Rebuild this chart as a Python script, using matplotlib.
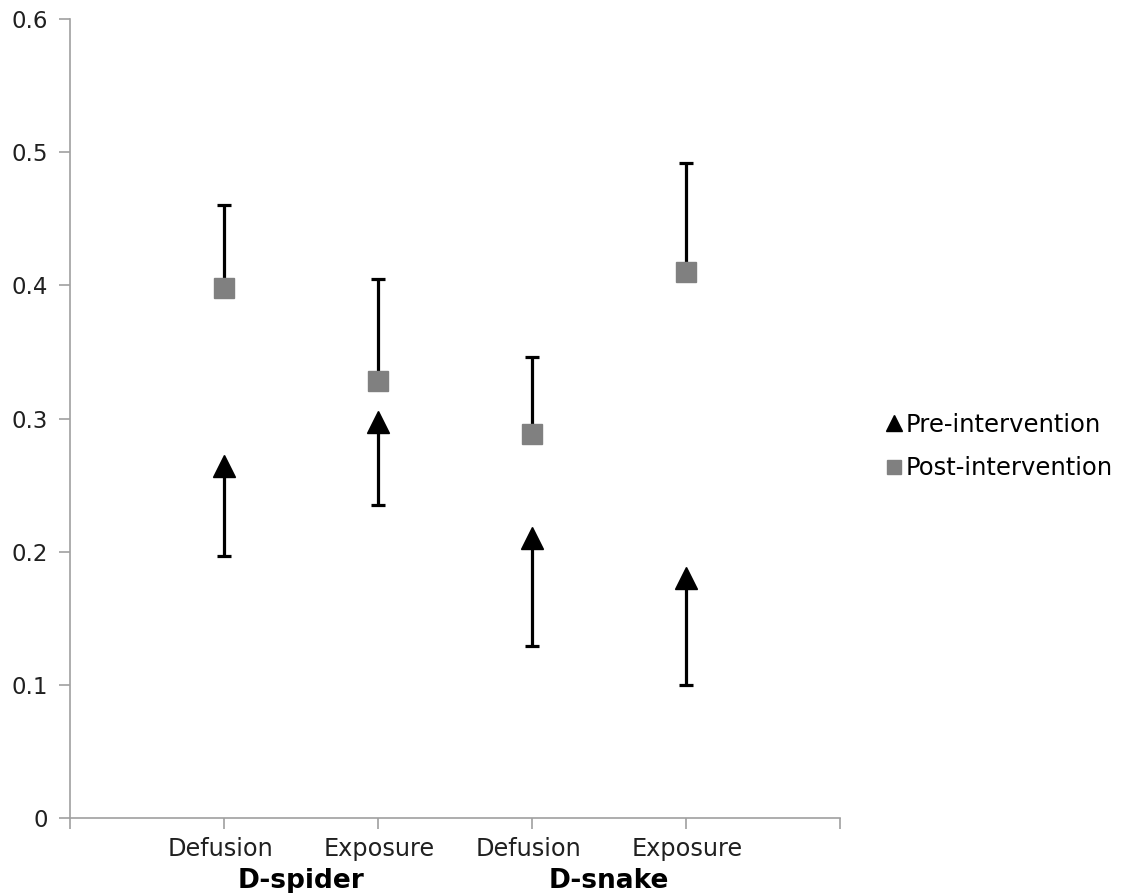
import matplotlib
matplotlib.use('Agg')
import matplotlib.pyplot as plt
import numpy as np

categories = ['Defusion', 'Exposure', 'Defusion', 'Exposure']
groups = ['D-spider', 'D-snake']
pre_means = [0.264, 0.297, 0.210, 0.180]
pre_err = [0.067, 0.062, 0.081, 0.080]
post_means = [0.398, 0.328, 0.288, 0.410]
post_err = [0.062, 0.077, 0.058, 0.082]

W, H = 1127, 893
fig = plt.figure(figsize=(W / 100, H / 100), dpi=100)
ax = fig.add_axes([70 / W, 1 - 818 / H, 770 / W, 799 / H])

x = np.arange(1, len(categories) + 1)
axis_col = '#a0a0a0'
pre_lo = np.array(pre_means) - np.array(pre_err)
post_hi = np.array(post_means) + np.array(post_err)

# one-sided error bars: down for pre, up for post
ax.vlines(x, pre_lo, pre_means, color='black', linewidth=2.3, zorder=2)
ax.vlines(x, post_means, post_hi, color='black', linewidth=2.3, zorder=2)
ax.plot(x, pre_lo, linestyle='none', marker='_', markersize=10,
        markeredgewidth=2.3, color='black', zorder=2)
ax.plot(x, post_hi, linestyle='none', marker='_', markersize=10,
        markeredgewidth=2.3, color='black', zorder=2)

ax.plot(x, pre_means, linestyle='none', marker='^', markersize=16,
        color='black', label='Pre-intervention', zorder=3)
ax.plot(x, post_means, linestyle='none', marker='s', markersize=14,
        color='#808080', label='Post-intervention', zorder=3)

ax.set_xlim(0, 5)
ax.set_ylim(0, 0.6)
ax.set_yticks(np.arange(0, 0.61, 0.1))
ax.set_yticklabels(['0', '0.1', '0.2', '0.3', '0.4', '0.5', '0.6'])
ax.set_xticks(np.arange(0, 6))
ax.set_xticklabels([])
ax.tick_params(axis='x', length=8, color=axis_col, width=1.2)
ax.tick_params(axis='y', length=8, color=axis_col, width=1.2, labelsize=16.5,
               pad=8, labelcolor='#202020')

for s in ['top', 'right']:
    ax.spines[s].set_visible(False)
for s in ['left', 'bottom']:
    ax.spines[s].set_color(axis_col)
    ax.spines[s].set_linewidth(1.2)

for xi, c in zip(x, categories):
    shift = -0.02 if c == 'Defusion' else 0.01
    ax.text(xi + shift, -0.0235, c, ha='center', va='center', fontsize=17.3,
            color='#202020')
for i, g in enumerate(groups):
    ax.text(1.5 + 2 * i, -0.047, g, ha='center', va='center',
            fontsize=19, fontweight='bold')

ax.legend(loc='center left', bbox_to_anchor=(1.05, 0.465), frameon=False,
          fontsize=17.5, handlelength=0.5, handletextpad=0.2, labelspacing=0.8,
          borderaxespad=0, markerscale=0.75)

fig.savefig('out.png', dpi=100)
